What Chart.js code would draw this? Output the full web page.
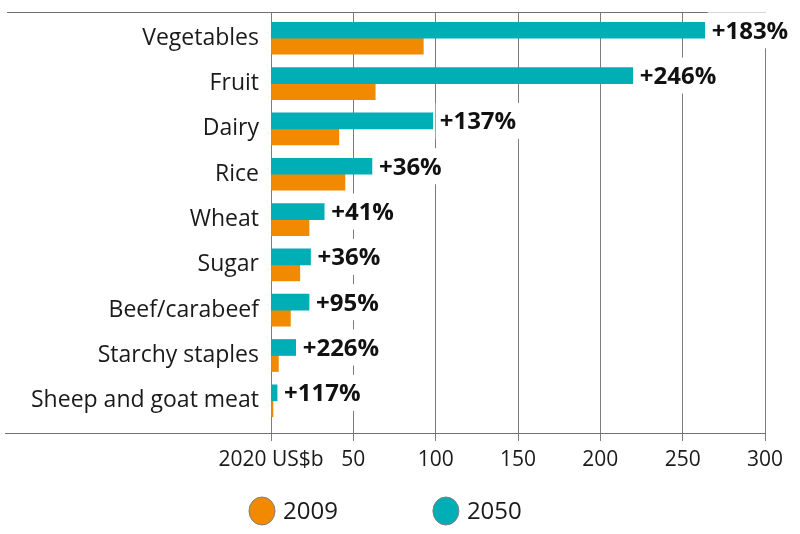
<!DOCTYPE html>
<html>
<head>
<meta charset="utf-8">
<script src="https://cdn.jsdelivr.net/npm/chart.js@4.4.1/dist/chart.umd.min.js"></script>
<style>
  html, body { margin: 0; padding: 0; background: #fff; }
  #wrap { width: 800px; height: 534px; }
</style>
</head>
<body>
<div id="wrap"><canvas id="chart" width="800" height="534"></canvas></div>
<script>
const categories = ['Vegetables', 'Fruit', 'Dairy', 'Rice', 'Wheat', 'Sugar', 'Beef/carabeef', 'Starchy staples', 'Sheep and goat meat'];
const values2009 = [92.5, 63.3, 41.2, 44.9, 23.1, 17.5, 11.8, 4.5, 1.2];
const values2050 = [263.4, 219.7, 98.2, 61.3, 32.3, 24.0, 23.1, 15.0, 3.7];
const changeLabels = ['+183%', '+246%', '+137%', '+36%', '+41%', '+36%', '+95%', '+226%', '+117%'];
const xTicks = [0, 50, 100, 150, 200, 250, 300];
const unitLabel = '2020 US$b';

const teal = '#00aeb5';
const orange = '#f18a00';
const gridGray = '#7c7c7c';
const textColor = '#1a1a1a';

// frame lines that run past the plot area, like the original
const framePlugin = {
  id: 'frame',
  beforeDatasetsDraw(chart) {
    const { ctx, chartArea } = chart;
    ctx.save();
    ctx.strokeStyle = '#707070';
    ctx.lineWidth = 1;
    ctx.beginPath();
    ctx.moveTo(7, chartArea.top + 0.5);
    ctx.lineTo(chartArea.right, chartArea.top + 0.5);
    ctx.moveTo(5, chartArea.bottom + 0.5);
    ctx.lineTo(chartArea.right, chartArea.bottom + 0.5);
    ctx.stroke();
    ctx.restore();
  },
};

// percentage change written at the end of each 2050 bar, on a white box
const changePlugin = {
  id: 'changeLabels',
  afterDatasetsDraw(chart) {
    const { ctx } = chart;
    const meta = chart.getDatasetMeta(0);
    ctx.save();
    ctx.font = 'bold 24px "Open Sans"';
    ctx.textBaseline = 'middle';
    meta.data.forEach((bar, i) => {
      const text = changeLabels[i];
      const w = ctx.measureText(text).width;
      ctx.fillStyle = '#fff';
      ctx.fillRect(bar.x + 3, bar.y - 18, w + 8, 36);
      ctx.fillStyle = '#111';
      ctx.fillText(text, bar.x + 7, bar.y + 1.5);
    });
    ctx.restore();
  },
};

// legend: round swatches, 2009 first
const legendPlugin = {
  id: 'roundLegend',
  afterDraw(chart) {
    const { ctx } = chart;
    const items = chart.data.datasets.slice().reverse();
    const r = 13;
    const y = 511;
    let x = 249;
    ctx.save();
    ctx.font = '24px "Open Sans"';
    ctx.textBaseline = 'middle';
    items.forEach((ds) => {
      ctx.beginPath();
      ctx.ellipse(x + r, y, r, r + 1, 0, 0, Math.PI * 2);
      ctx.fillStyle = ds.backgroundColor;
      ctx.fill();
      ctx.strokeStyle = '#808080';
      ctx.lineWidth = 1;
      ctx.stroke();
      ctx.fillStyle = textColor;
      ctx.fillText(ds.label, x + 2 * r + 8, y + 1);
      x += 2 * r + 8 + ctx.measureText(ds.label).width + 95;
    });
    ctx.restore();
  },
};

new Chart(document.getElementById('chart'), {
  type: 'bar',
  data: {
    datasets: [
      {
        label: '2050',
        data: values2050.map((v, i) => ({ x: v, y: i })),
        backgroundColor: teal,
        barThickness: 16,
      },
      {
        label: '2009',
        data: values2009.map((v, i) => ({ x: v, y: i })),
        backgroundColor: orange,
        barThickness: 16,
      },
    ],
  },
  options: {
    indexAxis: 'y',
    responsive: false,
    animation: false,
    layout: { padding: { top: 12, right: 35, left: 0, bottom: 62 } },
    plugins: {
      legend: { display: false },
      tooltip: { enabled: false },
    },
    scales: {
      x: {
        type: 'linear',
        position: 'bottom',
        min: 0,
        max: 300,
        afterBuildTicks: (scale) => {
          scale.ticks = xTicks.map((value) => ({ value }));
        },
        afterFit: (scale) => {
          scale.height = 39;
        },
        grid: { color: gridGray, lineWidth: 1, drawTicks: true, tickLength: 8, tickColor: gridGray },
        border: { display: false },
        ticks: {
          color: textColor,
          font: { family: 'Open Sans', size: 21 },
          padding: 6,
          maxRotation: 0,
          autoSkip: false,
          callback: (value) => (value === 0 ? unitLabel : value),
        },
      },
      y: {
        type: 'linear',
        reverse: true,
        offset: false,
        afterBuildTicks: (scale) => {
          scale.ticks = categories.map((_, i) => ({ value: i }));
          scale.min = -0.58;
          scale.max = 8.71;
        },
        afterFit: (scale) => {
          scale.width = 271;
          scale.paddingTop = 0;
          scale.paddingBottom = 0;
        },
        grid: { display: false, drawTicks: false },
        border: { display: false },
        ticks: {
          color: textColor,
          font: { family: 'Open Sans', size: 23, lineHeight: 1 },
          padding: 12,
          autoSkip: false,
          callback: (value) => categories[value],
        },
      },
    },
  },
  plugins: [framePlugin, changePlugin, legendPlugin],
});
</script>
</body>
</html>
